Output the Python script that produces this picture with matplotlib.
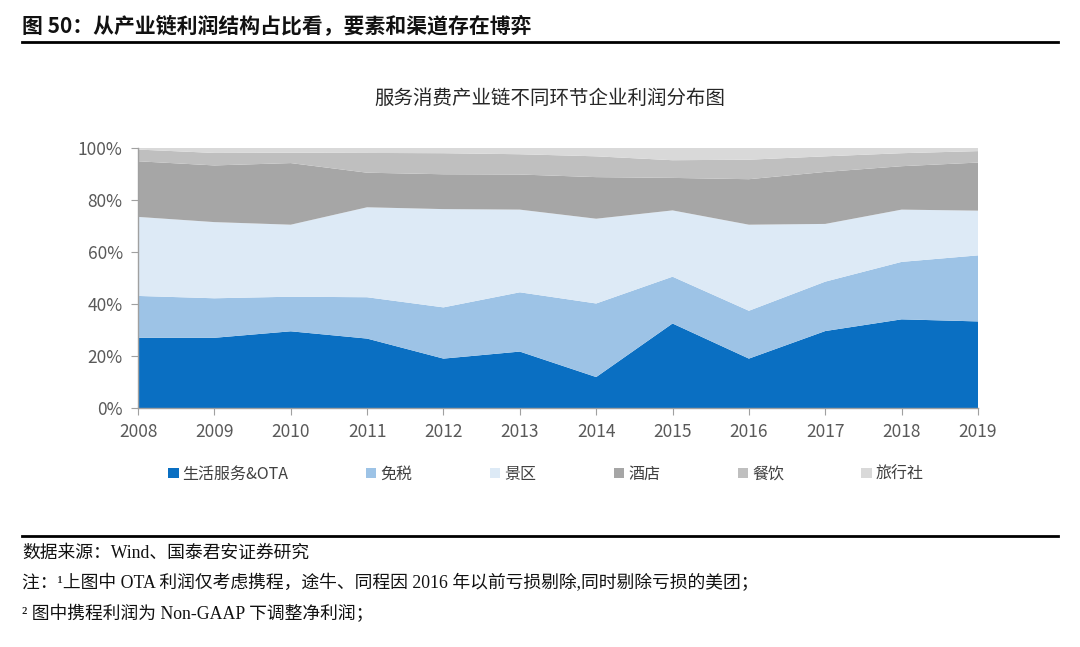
import matplotlib
matplotlib.use("Agg")
import matplotlib.pyplot as plt
import numpy as np

years = ["2008", "2009", "2010", "2011", "2012", "2013", "2014", "2015", "2016", "2017", "2018", "2019"]
series_names = ["生活服务&OTA", "免税", "景区", "酒店", "餐饮", "旅行社"]
ota = [27.0, 27.0, 29.5, 26.7, 19.0, 21.7, 11.9, 32.5, 19.0, 29.6, 34.1, 33.3]
duty_free = [16.1, 15.2, 13.3, 15.9, 19.7, 22.8, 28.3, 18.0, 18.4, 19.0, 22.1, 25.4]
scenic = [30.4, 29.3, 27.7, 34.6, 37.8, 31.8, 32.6, 25.5, 33.1, 22.2, 20.1, 17.2]
hotel = [21.4, 21.8, 23.7, 13.3, 13.4, 13.5, 16.0, 12.5, 17.5, 20.0, 16.7, 18.5]
catering = [4.5, 4.8, 4.0, 7.6, 8.1, 7.8, 8.0, 6.8, 7.5, 6.0, 5.0, 4.4]
travel_agency = [0.6, 1.9, 1.8, 1.9, 2.0, 2.4, 3.2, 4.7, 4.5, 3.2, 2.0, 1.2]
y_ticks = [0, 20, 40, 60, 80, 100]
y_tick_labels = ["0%", "20%", "40%", "60%", "80%", "100%"]

header = "图 50：从产业链利润结构占比看，要素和渠道存在博弈"
chart_title = "服务消费产业链不同环节企业利润分布图"
source = "数据来源：Wind、国泰君安证券研究"
note1 = "注：¹上图中 OTA 利润仅考虑携程，途牛、同程因 2016 年以前亏损剔除,同时剔除亏损的美团；"
note2 = "² 图中携程利润为 Non-GAAP 下调整净利润；"

colors = ["#0A6FC2", "#9DC3E6", "#DDEAF6", "#A6A6A6", "#BFBFBF", "#D9D9D9"]

sans = ["Noto Sans CJK SC", "DejaVu Sans"]
serif = ["Liberation Serif", "Noto Sans CJK SC", "DejaVu Sans"]
plt.rcParams["font.family"] = sans

fig = plt.figure(figsize=(10.8, 6.47), dpi=100)
ax = fig.add_axes([138 / 1080, 1 - 408 / 647, (978 - 138) / 1080, (408 - 148) / 647])

x = np.arange(len(years))
polys = ax.stackplot(x, ota, duty_free, scenic, hotel, catering, travel_agency,
                     colors=colors, labels=series_names, linewidth=0)

ax.set_xlim(0, len(years) - 1)
ax.set_ylim(0, 100)
ax.set_xticks(x)
ax.set_xticklabels(years)
ax.set_yticks(y_ticks)
ax.set_yticklabels(y_tick_labels)
for s in ["top", "right"]:
    ax.spines[s].set_visible(False)
for s in ["left", "bottom"]:
    ax.spines[s].set_color("#A0A0A0")
    ax.spines[s].set_linewidth(1.0)
ax.tick_params(axis="both", colors="#A0A0A0", labelcolor="#595959", labelsize=12.5, length=5)
ax.tick_params(axis="x", pad=6)
ax.tick_params(axis="y", pad=6)

fig.text(550 / 1080, 1 - 98 / 647, chart_title, ha="center", va="center", fontsize=14, color="#262626",
         fontweight="medium")

leg = fig.legend(polys, series_names, ncol=6, loc="center", bbox_to_anchor=(546 / 1080, 1 - 474 / 647),
                 frameon=False, handlelength=0.65, handleheight=0.65, handletextpad=0.25,
                 columnspacing=4.85, fontsize=11.5)
for t in leg.get_texts():
    t.set_color("#404040")

fig.text(22 / 1080, 1 - 27 / 647, header, ha="left", va="center", fontsize=15, fontweight="bold",
         family=sans, color="#111111")
fig.add_artist(plt.Line2D([22 / 1080, 1058 / 1080], [1 - 42 / 647, 1 - 42 / 647], color="black", linewidth=2))
fig.add_artist(plt.Line2D([22 / 1080, 1058 / 1080], [1 - 536 / 647, 1 - 536 / 647], color="black", linewidth=2))

fig.text(22 / 1080, 1 - 553 / 647, source, ha="left", va="center", fontsize=12.8, family=serif, color="#111111")
fig.text(22 / 1080, 1 - 583 / 647, note1, ha="left", va="center", fontsize=12.8, family=serif, color="#111111")
fig.text(22 / 1080, 1 - 614 / 647, note2, ha="left", va="center", fontsize=12.8, family=serif, color="#111111")

fig.savefig("out.png", dpi=100)
